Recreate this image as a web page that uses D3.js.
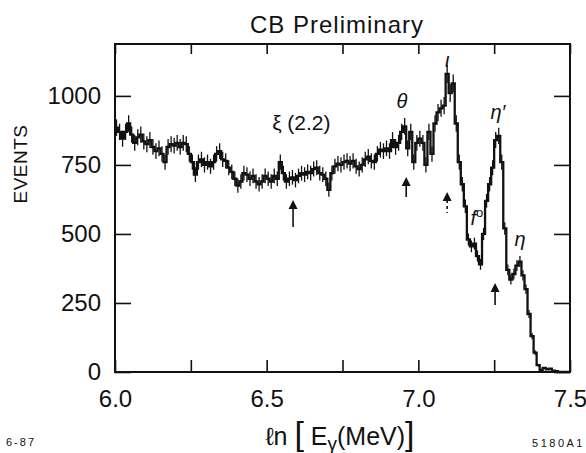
<!DOCTYPE html>
<html>
<head>
<meta charset="utf-8">
<script src="https://cdn.jsdelivr.net/npm/d3@7"></script>
<style>
  html, body { margin: 0; padding: 0; background: #fff; }
  svg text { font-family: "Liberation Sans", "DejaVu Sans", sans-serif; fill: #111; }
</style>
</head>
<body>
<svg id="chart" width="586" height="453"></svg>
<script>
// Inclusive photon spectrum, histogram in ln(E_gamma) bins of 0.01
const binLow = 6.0;
const binWidth = 0.01;
const counts = [
  885, 870, 845, 870, 900, 860, 830, 850, 860, 835,
  825, 840, 815, 800, 810, 790, 760, 815, 825, 820,
  830, 815, 830, 825, 790, 760, 715, 760, 770, 750,
  760, 745, 760, 790, 800, 770, 765, 740, 725, 700,
  675, 690, 720, 715, 700, 710, 690, 680, 690, 710,
  700, 690, 710, 700, 760, 720, 690, 700, 705, 695,
  710, 720, 715, 725, 720, 735, 740, 720, 715, 700,
  660, 720, 745, 755, 750, 760, 765, 755, 765, 745,
  735, 750, 770, 780, 765, 760, 790, 805, 800, 810,
  800, 840, 815, 830, 870, 890, 810, 870, 760, 830,
  845, 830, 750, 870, 790, 900, 940, 955, 965, 1080,
  1010, 1045, 900, 760, 680, 600, 480, 455, 465, 420,
  390, 500, 620, 680, 740, 840, 855, 760, 520, 370,
  335, 355, 385, 400, 350, 300, 210, 130, 70, 25,
  8, 15, 10, 12, 5, 3, 0, 0, 0, 0
];

const xTickValues = [6.0, 6.25, 6.5, 6.75, 7.0, 7.25, 7.5];
const xTickLabels = ["6.0", "", "6.5", "", "7.0", "", "7.5"];
const yTickValues = [0, 250, 500, 750, 1000];

// Resonance markers: label, label position, arrow position
const peakNames = ["ξ (2.2)", "θ", "ι", "η′", "f", "η"];
const peakLabelX = [6.518, 6.946, 7.095, 7.262, 7.172, 7.335];
const peakLabelY = [877, 957, 1105, 915, 533, 455];
const peakAnchor = ["start", "middle", "middle", "middle", "start", "middle"];
const arrowX = [6.587, 6.96, 7.095, 7.253];
const arrowTip = [623, 706, 652, 322];
const arrowBase = [525, 634, 576, 243];

const svg = d3.select("#chart");
const plot = { left: 115, right: 570, top: 44, bottom: 372 };

const x = d3.scaleLinear().domain([6.0, 7.5]).range([plot.left, plot.right]);
const y = d3.scaleLinear().domain([0, 1188]).range([plot.bottom, plot.top]);

// Histogram as a step trace
const bins = counts.map((c, i) => ({ lo: binLow + i * binWidth, c }));
const stepPts = [];
bins.forEach(b => { stepPts.push([b.lo, b.c]); stepPts.push([b.lo + binWidth, b.c]); });

svg.append("path")
  .datum(stepPts)
  .attr("fill", "none")
  .attr("stroke", "#111")
  .attr("stroke-width", 2.3)
  .attr("stroke-linejoin", "miter")
  .attr("d", d3.line().x(d => x(d[0])).y(d => y(d[1])));

// Statistical error bars
svg.append("g").selectAll("line")
  .data(bins.filter(b => b.c > 20))
  .join("line")
  .attr("x1", b => x(b.lo + binWidth / 2))
  .attr("x2", b => x(b.lo + binWidth / 2))
  .attr("y1", b => y(b.c + Math.sqrt(b.c)))
  .attr("y2", b => y(b.c - Math.sqrt(b.c)))
  .attr("stroke", "#111")
  .attr("stroke-width", 1.3);

// Frame with inward ticks on all sides
const xTickLen = 12, yTickLen = 16;
const axB = svg.append("g").attr("transform", `translate(0,${plot.bottom})`)
  .call(d3.axisBottom(x).tickValues(xTickValues).tickSizeInner(-xTickLen).tickSizeOuter(0)
    .tickPadding(18).tickFormat((d, i) => xTickLabels[i]));
const axT = svg.append("g").attr("transform", `translate(0,${plot.top})`)
  .call(d3.axisTop(x).tickValues(xTickValues).tickSizeInner(-xTickLen + 2).tickSizeOuter(0).tickFormat(""));
const axL = svg.append("g").attr("transform", `translate(${plot.left},0)`)
  .call(d3.axisLeft(y).tickValues(yTickValues).tickSizeInner(-yTickLen).tickSizeOuter(0)
    .tickPadding(14).tickFormat(d3.format("d")));
const axR = svg.append("g").attr("transform", `translate(${plot.right},0)`)
  .call(d3.axisRight(y).tickValues(yTickValues).tickSizeInner(-yTickLen).tickSizeOuter(0).tickFormat(""));

[axB, axT, axL, axR].forEach(g => {
  g.select(".domain").remove();
  g.selectAll(".tick line").attr("stroke", "#111").attr("stroke-width", 1.6);
  g.selectAll(".tick text").attr("font-size", 24).attr("font-family", "Liberation Sans").attr("fill", "#111");
});

svg.append("rect")
  .attr("x", plot.left).attr("y", plot.top)
  .attr("width", plot.right - plot.left).attr("height", plot.bottom - plot.top)
  .attr("fill", "none").attr("stroke", "#111").attr("stroke-width", 2);

// Title
svg.append("text")
  .attr("x", 337).attr("y", 33)
  .attr("text-anchor", "middle").attr("font-size", 24).attr("letter-spacing", 1)
  .text("CB Preliminary");

// Y axis title
svg.append("text")
  .attr("transform", "translate(27,164) rotate(-90)")
  .attr("text-anchor", "middle").attr("font-size", 19).attr("letter-spacing", 0.5)
  .text("EVENTS");

// X axis title: ln [ E_gamma (MeV) ]
const xt = svg.append("text")
  .attr("x", 340).attr("y", 445)
  .attr("text-anchor", "middle").attr("font-size", 25);
xt.append("tspan").text("ℓn ");
xt.append("tspan").attr("font-size", 34).text("[");
xt.append("tspan").text(" E");
xt.append("tspan").attr("font-size", 19).attr("dy", 5).text("γ");
xt.append("tspan").attr("dy", -5).text("(MeV)");
xt.append("tspan").attr("font-size", 34).text("]");

// Corner notes
svg.append("text").attr("x", 6).attr("y", 446).attr("font-size", 11)
  .attr("letter-spacing", 2).text("6-87");
svg.append("text").attr("x", 585).attr("y", 447).attr("font-size", 11)
  .attr("text-anchor", "end").attr("letter-spacing", 2.5).text("5180A1");

// Resonance labels
const labels = svg.append("g").selectAll("text")
  .data(peakNames)
  .join("text")
  .attr("x", (d, i) => x(peakLabelX[i]))
  .attr("y", (d, i) => y(peakLabelY[i]))
  .attr("text-anchor", (d, i) => peakAnchor[i])
  .attr("font-size", (d, i) => i === 0 ? 21 : 20)
  .attr("font-style", (d, i) => i === 0 ? "normal" : "italic")
  .text(d => d);
// superscript on the f meson label
labels.filter(d => d === "f").append("tspan")
  .attr("font-size", 13).attr("font-style", "normal").attr("dy", -8).text("o");

// Arrows marking expected positions
const arrows = svg.append("g");
arrowX.forEach((ax, i) => {
  const px = x(ax), tip = y(arrowTip[i]), base = y(arrowBase[i]);
  arrows.append("path")
    .attr("d", `M${px},${tip} L${px - 4.5},${tip + 9} L${px + 4.5},${tip + 9} Z`)
    .attr("fill", "#111");
  arrows.append("line")
    .attr("x1", px).attr("x2", px).attr("y1", tip + 8).attr("y2", base)
    .attr("stroke", "#111").attr("stroke-width", 1.6)
    .attr("stroke-dasharray", i === 2 ? "3,3" : null);
});
</script>
</body>
</html>
